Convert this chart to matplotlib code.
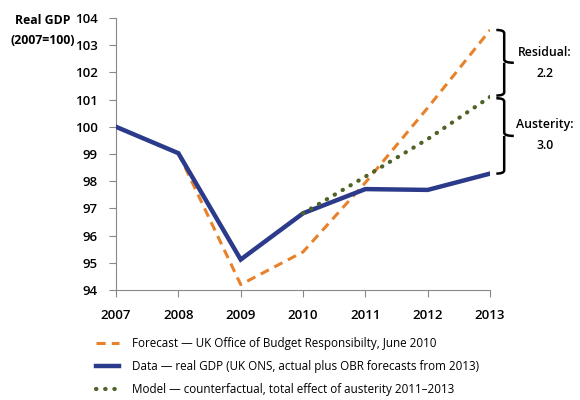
import matplotlib.pyplot as plt
from matplotlib.path import Path
from matplotlib.patches import PathPatch

plt.rcParams['font.family'] = ['Open Sans', 'DejaVu Sans']

years = [2007, 2008, 2009, 2010, 2011, 2012, 2013]
data_gdp = [100.0, 99.03, 95.12, 96.82, 97.71, 97.68, 98.28]
forecast_years = [2008, 2009, 2010, 2011, 2012, 2013]
forecast = [99.03, 94.2, 95.4, 97.95, 100.7, 103.56]
model_years = [2010, 2011, 2012, 2013]
model = [96.82, 98.17, 99.55, 101.1]

fig = plt.figure(figsize=(5.8, 4), dpi=100)
ax = fig.add_axes([0.2, 0.275, 0.645, 0.68])

ax.plot(forecast_years, forecast, color='#E8822A', lw=2.2, ls=(0, (3, 2)),
        label='Forecast \u2014 UK Office of Budget Responsibilty, June 2010', zorder=2)
ax.plot(years, data_gdp, color='#2B3A8A', lw=3.2, solid_joinstyle='miter',
        label='Data \u2014 real GDP (UK ONS, actual plus OBR forecasts from 2013)', zorder=3)
ax.plot(model_years, model, color='#4F6228', lw=3, ls=(0, (0.1, 2.1)),
        dash_capstyle='round', solid_capstyle='round',
        label='Model \u2014 counterfactual, total effect of austerity 2011\u20132013', zorder=4)

ax.set_xlim(2007, 2013)
ax.set_ylim(94, 104)
ax.set_xticks(years)
ax.set_yticks(range(94, 105))
for s in ['top', 'right']:
    ax.spines[s].set_visible(False)
for s in ['left', 'bottom']:
    ax.spines[s].set_color('#888888')
ax.tick_params(axis='both', colors='#888888', length=5, labelcolor='black', labelsize=9.5)
ax.tick_params(axis='x', pad=9)
ax.tick_params(axis='y', pad=8)
for lbl in ax.get_xticklabels() + ax.get_yticklabels():
    lbl.set_fontweight('semibold')

fig.text(0.074, 0.925, 'Real GDP\n(2007=100)', ha='center', va='center',
         fontsize=8.8, fontweight='bold', linespacing=1.7)


def brace(y_top, y_bot, x0, w):
    mid = (y_top + y_bot) / 2
    xm = x0 + w * 0.45
    c = 0.12
    verts = [(x0, y_top), (xm, y_top), (xm, y_top - c),
             (xm, mid + c), (xm, mid), (x0 + w, mid),
             (xm, mid), (xm, mid - c),
             (xm, y_bot + c), (xm, y_bot), (x0, y_bot)]
    codes = [Path.MOVETO, Path.CURVE3, Path.CURVE3,
             Path.LINETO, Path.CURVE3, Path.CURVE3,
             Path.MOVETO, Path.CURVE3,
             Path.LINETO, Path.CURVE3, Path.CURVE3]
    p = PathPatch(Path(verts, codes), fill=False, lw=1.8, color='black', clip_on=False)
    ax.add_patch(p)


brace(forecast[-1], model[-1] + 0.05, 2013.1, 0.28)
brace(model[-1] - 0.05, data_gdp[-1], 2013.1, 0.28)
ax.text(2013.88, (forecast[-1] + model[-1]) / 2, 'Residual:\n%.1f' % 2.2,
        ha='center', va='center', fontsize=8.8, fontweight='semibold', linespacing=1.8)
ax.text(2013.88, (model[-1] + data_gdp[-1]) / 2, 'Austerity:\n%.1f' % 3.0,
        ha='center', va='center', fontsize=8.8, fontweight='semibold', linespacing=1.8)

leg = fig.legend(loc='upper left', bbox_to_anchor=(0.165, 0.158), frameon=False,
                 fontsize=8.4, handlelength=2.0, handletextpad=1.15,
                 labelspacing=0.85, borderaxespad=0, borderpad=0)

fig.savefig('out.png', dpi=100)
